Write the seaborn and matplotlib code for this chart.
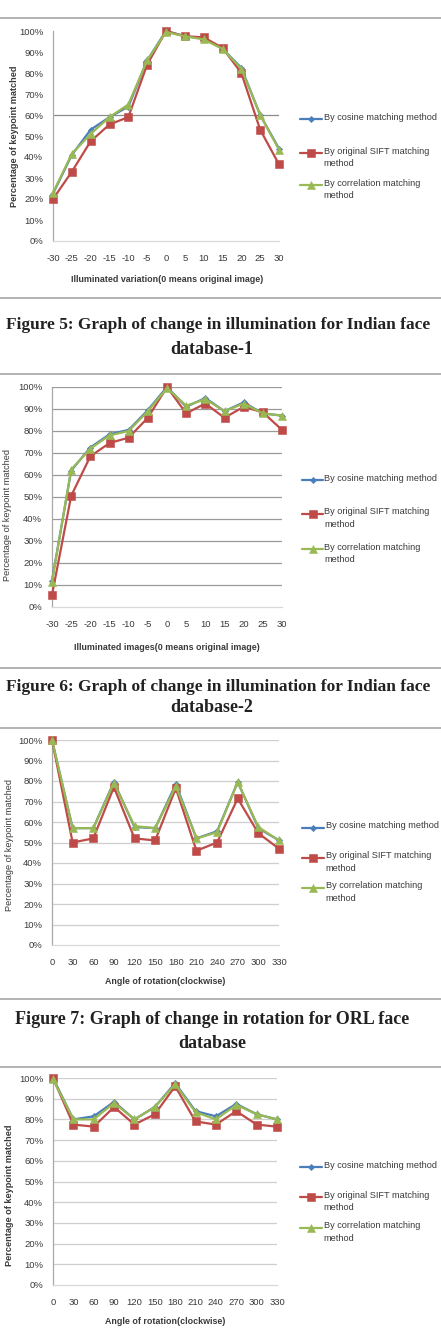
import matplotlib
matplotlib.use("Agg")
import matplotlib.pyplot as plt
from matplotlib.lines import Line2D
from matplotlib.ticker import FuncFormatter
import seaborn as sns
import pandas as pd

sns.set_theme(style="white")
plt.rcParams['font.family'] = ['Liberation Sans', 'DejaVu Sans']
plt.rcParams['axes.unicode_minus'] = False

# ---------------- data ----------------
illum_x = [-30, -25, -20, -15, -10, -5, 0, 5, 10, 15, 20, 25, 30]
rot_x = [0, 30, 60, 90, 120, 150, 180, 210, 240, 270, 300, 330]

methods = ["By cosine matching method",
           "By original SIFT matching\nmethod",
           "By correlation matching\nmethod"]

f5_cosine = [22.5, 41, 53, 59, 64, 86, 100, 97.5, 96.5, 91.5, 82.5, 60, 44]
f5_sift = [20, 33, 47.5, 55.5, 59, 84, 100, 97.5, 97, 92, 80, 53, 36.5]
f5_corr = [23, 41.5, 51, 59, 65, 86, 99.5, 97.5, 96, 91.5, 82, 60, 43.5]

f6_cosine = [12, 62, 72.5, 78.5, 80.5, 89.5, 100, 91, 95, 89, 93, 88, 87]
f6_sift = [5.5, 50.5, 68.5, 74.5, 77, 86, 100, 88, 92.5, 86, 91, 88.5, 80.5]
f6_corr = [11.5, 62.5, 72, 78, 80, 89, 99.5, 91.5, 94.5, 89, 92.5, 88, 87]

f7_cosine = [100, 57, 57, 79.5, 57.5, 57, 78.5, 52, 55.5, 79.5, 57, 51]
f7_sift = [100, 50, 52, 77, 52, 51, 76.5, 46, 50, 71.5, 54.5, 47]
f7_corr = [100, 57, 57, 79, 58, 57, 77.5, 52, 55, 79.5, 57.5, 51]

f8_cosine = [100, 80, 81.5, 88.5, 80, 86, 97.5, 84, 81.5, 87.5, 82.5, 80]
f8_sift = [100, 77.5, 76.5, 86, 77.5, 82.5, 96, 79, 77.5, 84, 77.5, 76.5]
f8_corr = [99.5, 80, 80, 88, 80, 86, 97, 83.5, 80, 87, 82.5, 80]

y_ticks = [0, 10, 20, 30, 40, 50, 60, 70, 80, 90, 100]

captions = [
    ("Figure 5: Graph of change in illumination for Indian face", "database-1"),
    ("Figure 6: Graph of change in illumination for Indian face", "database-2"),
    ("Figure 7: Graph of change in rotation for ORL face", "database"),
]
ylabel = "Percentage of keypoint matched"
xlabels = ["Illuminated variation(0 means original image)",
           "Illuminated images(0 means original image)",
           "Angle of rotation(clockwise)",
           "Angle of rotation(clockwise)"]

# ---------------- style / layout ----------------
W, H = 441, 1330
colors = ["#4a7ebb", "#be4b48", "#98b954"]
markers = ["D", "s", "^"]
msizes = [3.2, 6.0, 5.2]
TXT = "#3a3a3a"

fig = plt.figure(figsize=(W / 100, H / 100), dpi=100)
fig.patch.set_facecolor("white")


def fx(x):
    return x / W


def fy(y):
    return 1 - y / H


charts = [
    dict(x=illum_x, s=(f5_cosine, f5_sift, f5_corr), box=(53, 279, 31, 241),
         grid="only60", gcol="#8c8c8c", ylab=(15, 136, "bold"), xlab=(167, 279),
         leg=(300, 322, [119, 153, 185])),
    dict(x=illum_x, s=(f6_cosine, f6_sift, f6_corr), box=(52, 282, 387, 607),
         grid="all", gcol="#9a9a9a", ylab=(8, 515, "normal"), xlab=(167, 648),
         leg=(302, 323, [480, 514, 549])),
    dict(x=rot_x, s=(f7_cosine, f7_sift, f7_corr), box=(52, 279, 740, 945),
         grid="all", gcol="#cfcfcf", ylab=(10, 845, "normal"), xlab=(165, 981),
         leg=(302, 324, [828, 858, 888])),
    dict(x=rot_x, s=(f8_cosine, f8_sift, f8_corr), box=(53, 277, 1078, 1285),
         grid="all", gcol="#cfcfcf", ylab=(10, 1195, "bold"), xlab=(165, 1322),
         leg=(300, 322, [1167, 1197, 1228])),
]

for ci, c in enumerate(charts):
    l, r, t, b = c["box"]
    ax = fig.add_axes([fx(l), fy(b), (r - l) / W, (b - t) / H])
    ax.set_facecolor("none")
    for k in range(3):
        df = pd.DataFrame({"x": c["x"], "v": c["s"][k]})
        sns.lineplot(data=df, x="x", y="v", ax=ax, color=colors[k], lw=1.6,
                     marker=markers[k], markersize=msizes[k], markeredgewidth=0.4,
                     markeredgecolor=colors[k], clip_on=False, zorder=3 + k)
    ax.set_xlim(c["x"][0], c["x"][-1])
    ax.set_ylim(0, 100)
    ax.set_xticks(c["x"])
    ax.set_yticks(y_ticks)
    ax.yaxis.set_major_formatter(FuncFormatter(lambda v, p: f"{v:.0f}%"))
    ax.set_xlabel("")
    ax.set_ylabel("")
    ax.grid(False)
    if c["grid"] == "only60":
        ax.axhline(60, color=c["gcol"], lw=0.9, zorder=1)
    else:
        for v in y_ticks[1:]:
            ax.axhline(v, color=c["gcol"], lw=0.9, zorder=1)
    for sp in ["top", "right"]:
        ax.spines[sp].set_visible(False)
    ax.spines["left"].set_color("#a8a8a8")
    ax.spines["left"].set_linewidth(0.9)
    ax.spines["bottom"].set_color("#d8d8d8")
    ax.spines["bottom"].set_linewidth(0.9)
    ax.tick_params(axis="x", length=3, direction="inout", color="#b8b8b8",
                   width=0.8, pad=8, labelsize=6.8, labelcolor=TXT)
    ax.tick_params(axis="y", length=0, pad=7, labelsize=6.8, labelcolor=TXT)
    if ax.get_legend():
        ax.get_legend().remove()

    # axis titles
    yx, yy, yw = c["ylab"]
    fig.text(fx(yx), fy(yy), ylabel, rotation=90, ha="center", va="center",
             fontsize=6.6, weight=yw, color=TXT)
    xx, xy = c["xlab"]
    fig.text(fx(xx), fy(xy), xlabels[ci], ha="center", va="center",
             fontsize=6.4, weight="bold", color=TXT)

    # legend
    hx0, hx1, ys = c["leg"]
    for k in range(3):
        yk = ys[k]
        fig.add_artist(Line2D([fx(hx0), fx(hx1)], [fy(yk), fy(yk)], color=colors[k],
                              lw=1.6, transform=fig.transFigure))
        fig.add_artist(Line2D([fx((hx0 + hx1) / 2)], [fy(yk)], color=colors[k],
                              marker=markers[k], markersize=msizes[k],
                              markeredgewidth=0.4, transform=fig.transFigure))
        fig.text(fx(hx1 + 1.5), fy(yk - 6.5), methods[k], ha="left", va="top",
                 fontsize=6.6, color=TXT, linespacing=1.45)

# separators
for y in [18, 298, 374, 668, 728, 999, 1067]:
    fig.add_artist(Line2D([0, 1], [fy(y), fy(y)], color="#a5a5a5", lw=1.2,
                          transform=fig.transFigure))

# captions
cap_pos = [(325, 350), (687, 708), (1019, 1043)]
for (l1, l2), (y1, y2) in zip(captions, cap_pos):
    long_line = len(l1) > 52
    fig.text(fx(218 if long_line else 212), fy(y1), l1, ha="center", va="center",
             fontsize=12.5 if long_line else 13,
             family="Liberation Serif", weight="bold", color="#222222")
    fig.text(fx(212), fy(y2), l2, ha="center", va="center", fontsize=13,
             family="Liberation Serif", weight="bold", color="#222222")

fig.savefig("out.png", dpi=100, facecolor="white")
